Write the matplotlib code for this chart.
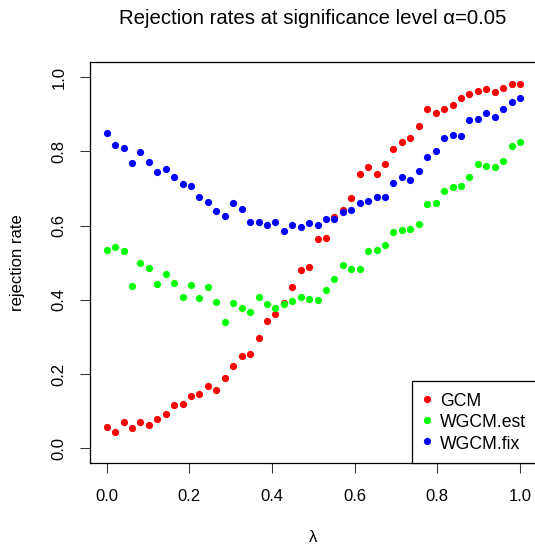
import numpy as np
import matplotlib
matplotlib.use("Agg")
import matplotlib.pyplot as plt

plt.rcParams['font.family'] = ['Liberation Sans', 'DejaVu Sans']

n_points = 50
lam = np.linspace(0, 1, n_points)

gcm = [0.058, 0.043, 0.072, 0.056, 0.070, 0.063, 0.080, 0.094, 0.116, 0.119,
       0.140, 0.147, 0.167, 0.158, 0.189, 0.223, 0.249, 0.254, 0.298, 0.344,
       0.361, 0.392, 0.434, 0.480, 0.489, 0.564, 0.567, 0.624, 0.642, 0.674,
       0.739, 0.757, 0.739, 0.767, 0.806, 0.826, 0.837, 0.867, 0.913, 0.902,
       0.913, 0.925, 0.945, 0.955, 0.962, 0.969, 0.961, 0.970, 0.981, 0.982]

wgcm_est = [0.535, 0.543, 0.533, 0.438, 0.500, 0.486, 0.444, 0.470, 0.445, 0.408,
            0.439, 0.404, 0.435, 0.394, 0.341, 0.392, 0.379, 0.368, 0.409, 0.389,
            0.377, 0.388, 0.398, 0.409, 0.403, 0.399, 0.427, 0.457, 0.493, 0.484,
            0.484, 0.531, 0.534, 0.547, 0.583, 0.587, 0.591, 0.604, 0.658, 0.660,
            0.692, 0.703, 0.707, 0.730, 0.766, 0.760, 0.757, 0.773, 0.814, 0.826]

wgcm_fix = [0.849, 0.816, 0.810, 0.768, 0.797, 0.771, 0.745, 0.753, 0.731, 0.711,
            0.708, 0.677, 0.664, 0.640, 0.626, 0.662, 0.644, 0.610, 0.609, 0.601,
            0.611, 0.585, 0.603, 0.595, 0.608, 0.601, 0.617, 0.618, 0.637, 0.642,
            0.660, 0.666, 0.676, 0.677, 0.715, 0.730, 0.722, 0.747, 0.784, 0.801,
            0.836, 0.845, 0.841, 0.884, 0.887, 0.903, 0.892, 0.913, 0.934, 0.945]

series_names = ["GCM", "WGCM.est", "WGCM.fix"]
series_colors = ["#FF0000", "#00FF00", "#0000FF"]
ticks = [0.0, 0.2, 0.4, 0.6, 0.8, 1.0]
tick_labels = ["0.0", "0.2", "0.4", "0.6", "0.8", "1.0"]

fig = plt.figure(figsize=(5.35, 5.48), dpi=100)
ax = fig.add_axes([0.1686, 0.1546, 0.8342, 0.7318])

for vals, name, col in zip([gcm, wgcm_est, wgcm_fix], series_names, series_colors):
    ax.plot(lam, vals, linestyle='none', marker='o', markersize=5.2,
            markeredgewidth=0, color=col, label=name)

ax.set_xlim(-0.04, 1.04)
ax.set_ylim(-0.04, 1.04)
ax.set_xticks(ticks)
ax.set_xticklabels(tick_labels)
ax.set_yticks(ticks)
ax.set_yticklabels(tick_labels, rotation=90, va='center')
ax.tick_params(axis='both', direction='out', length=7.2, width=0.75,
               labelsize=12, color='#333333')
ax.tick_params(axis='x', pad=11)
ax.tick_params(axis='y', pad=10)
for sp in ax.spines.values():
    sp.set_linewidth(0.9)
    sp.set_color('black')

ax.set_xlabel('λ', fontsize=12, va='center')
ax.xaxis.set_label_coords(0.5, -0.184)
ax.set_ylabel('rejection rate', fontsize=12, va='center')
ax.yaxis.set_label_coords(-0.162, 0.5)

fig.text(0.585, 1 - 24 / 548, 'Rejection rates at significance level α=0.05',
         ha='center', va='baseline', fontsize=14.7)

leg = ax.legend(loc='lower right', borderaxespad=0, frameon=True, fancybox=False,
                edgecolor='black', framealpha=1, fontsize=12.7, borderpad=0.6,
                handlelength=0.5, handletextpad=0.5, labelspacing=0.13,
                handleheight=1.2, markerscale=1.0)
leg.get_frame().set_linewidth(0.9)

fig.savefig('out.png', dpi=100)
